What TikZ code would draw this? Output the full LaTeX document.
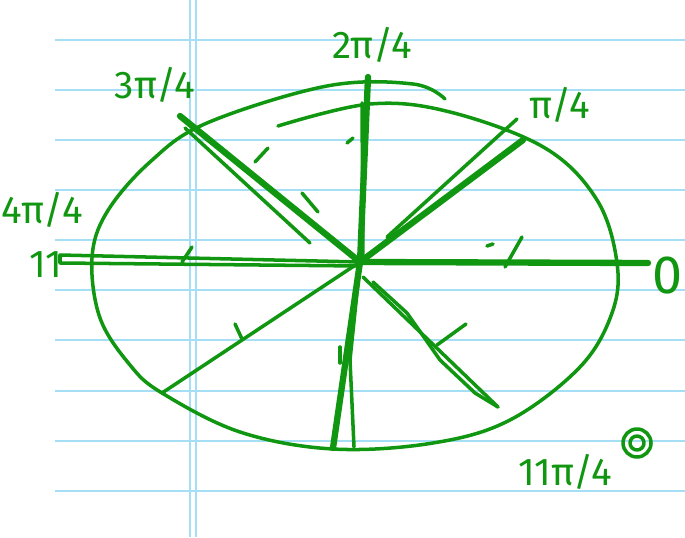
\documentclass[tikz,border=0pt]{standalone}
\usepackage{fontspec}
\setmainfont{Fira Sans}
\usepackage{tikz}
\usepackage{xcolor}
\definecolor{ink}{RGB}{16,150,16}
\definecolor{paperrule}{RGB}{166,222,246}

\begin{document}
\begin{tikzpicture}[x=0.03cm, y=-0.03cm,
  pen/.style={ink, line width=3pt, line cap=round, line join=round},
  heavy/.style={pen, line width=5.4pt},
  lbl/.style={text=ink, inner sep=0pt, font=\fontsize{33}{37}\selectfont}]
\useasboundingbox (0,0) rectangle (685,537);
\foreach \y in {40,90,140,190,240,290,340,391,441,491}
  \draw[paperrule, line width=0.9pt] (55,\y) -- (685,\y);
\draw[paperrule, line width=0.9pt] (190,0) -- (190,537) (196,0) -- (196,537);

\coordinate (o) at (360,262);
\coordinate (east) at (648,263);
\coordinate (west) at (58,258);
\coordinate (north) at (368,77);
\coordinate (south) at (333,448);
\coordinate (nw) at (180,116);
\coordinate (ne) at (523,140);
\coordinate (sw) at (162,393);
\coordinate (se) at (498,407);

\draw[pen] plot[smooth, tension=0.6] coordinates {(445,99) (413,84) (327,86) (207,123)
  (150,162) (107,212) (92,258) (100,318) (130,365) (162,393) (240,432) (333,449)
  (433,443) (510,420) (580,367) (612,313) (617,263) (597,200) (545,148) (450,112)
  (370,104) (278,126)};

\draw[heavy] (o) -- (east);
\draw[pen] (360,266) -- (60,263) -- (60,255) -- (o);
\draw[heavy] (o) -- (north);
\draw[pen] (362,103) -- (363,262);
\draw[heavy] (o) -- (nw);
\draw[pen] (185,128) -- (310,243);
\draw[pen] (302,193) -- (318,212);
\draw[heavy] (o) -- (ne);
\draw[pen] (387,237) -- (517,119);
\draw[pen] (o) -- (sw);
\draw[heavy] (o) -- (south);
\draw[pen] (358,283) -- (350,360) -- (354,447);
\draw[pen] (363,277) -- (se);
\draw[pen] (373,282) -- (407,313) -- (440,360) -- (475,393) -- (se);

\draw[pen] (255,162) -- (268,148);
\draw[pen] (235,324) -- (242,339);
\draw[pen] (437,345) -- (466,324);
\draw[pen] (347,143) -- (353,138);
\draw[pen] (182,262) -- (192,247);
\draw[pen] (487,246) -- (493,244);
\draw[pen] (522,237) -- (505,267);
\draw[pen] (340,347) -- (340,363);

\node[lbl] (l2pi) at (372,45) {2π/4};
\node[lbl] (l3pi) at (155,85) {3π/4};
\node[lbl] (lpi) at (560,105) {π/4};
\node[lbl] (l4pi) at (42,210) {4π/4};
\node[lbl] (l11) at (46,265) {11};
\node[lbl, font=\fontsize{46}{50}\selectfont] (lzero) at (668,276) {0};
\node[lbl] (l11pi) at (565,472) {11π/4};
\draw[pen] (637,443) circle [radius=14];
\draw[pen] (637,443) circle [radius=7];
\end{tikzpicture}
\end{document}
